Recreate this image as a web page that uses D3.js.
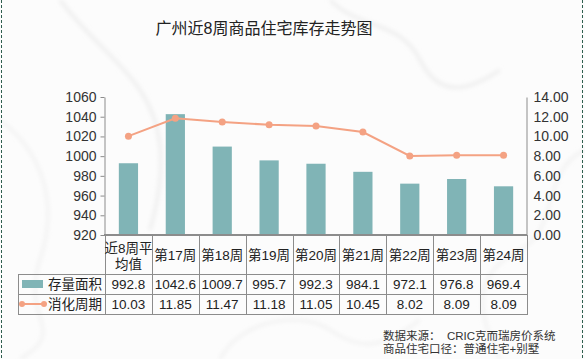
<!DOCTYPE html>
<html>
<head>
<meta charset="utf-8">
<script src="https://cdn.jsdelivr.net/npm/d3@7"></script>
<style>
  body { margin: 0; background: #fff; }
  svg { display: block; font-family: "Liberation Sans", Arial, "Noto Sans CJK SC", sans-serif; }
  .axis path, .axis line { stroke: #8c8c8c; }
  .axis text { fill: #333; font-size: 14px; }
  .cell text { fill: #222; font-size: 13.5px; }
</style>
</head>
<body>
<div id="chart"></div>
<script>
const categories = ['近8周平均值', '第17周', '第18周', '第19周', '第20周', '第21周', '第22周', '第23周', '第24周']
const stockArea = [992.8, 1042.6, 1009.7, 995.7, 992.3, 984.1, 972.1, 976.8, 969.4]
const cycle = [10.03, 11.85, 11.47, 11.18, 11.05, 10.45, 8.02, 8.09, 8.09]
const leftTicks = [920, 940, 960, 980, 1000, 1020, 1040, 1060]
const rightTicks = [0, 2, 4, 6, 8, 10, 12, 14]

const dms = { width: 585, height: 359 }
const plot = { left: 105, right: 527, top: 97, bottom: 235 }
const table = { left: 18, head: 274, row1: 294, row2: 314 }
const barColor = '#80b4b6'
const lineColor = '#f4a283'

const svg = d3.select('#chart').append('svg')
    .attr('width', dms.width)
    .attr('height', dms.height)

// marble-ish background
const defs = svg.append('defs')
defs.append('filter').attr('id', 'blur')
  .append('feGaussianBlur').attr('stdDeviation', 2)
svg.append('rect').attr('width', dms.width).attr('height', dms.height).attr('fill', '#fcfcfc')
const veins = svg.append('g').attr('filter', 'url(#blur)').attr('fill', 'none').attr('stroke', '#ececec')
veins.append('path').attr('d', 'M60,0 C90,40 120,60 140,90 S170,160 150,230').attr('stroke-width', 3)
veins.append('path').attr('d', 'M330,0 C360,30 400,20 420,60 S470,90 500,70').attr('stroke-width', 3)
veins.append('path').attr('d', 'M0,120 C40,150 60,200 40,260 S70,330 20,359').attr('stroke-width', 2)
veins.append('path').attr('d', 'M585,150 C540,170 560,230 520,250 S470,300 500,359').attr('stroke-width', 2)
veins.append('path').attr('d', 'M220,359 C240,320 300,310 330,330 S380,350 420,320').attr('stroke-width', 2)

// dashed side borders
svg.append('line').attr('x1', 1.5).attr('x2', 1.5).attr('y1', 0).attr('y2', dms.height)
  .attr('stroke', '#2e5e4e').attr('stroke-dasharray', '3,2')
svg.append('line').attr('x1', 582.5).attr('x2', 582.5).attr('y1', 0).attr('y2', dms.height)
  .attr('stroke', '#2e5e4e').attr('stroke-dasharray', '3,2')

svg.append('text')
  .attr('x', 264).attr('y', 34)
  .attr('text-anchor', 'middle')
  .attr('font-size', 16).attr('fill', '#222')
  .text('广州近8周商品住宅库存走势图')

const xScale = d3.scaleBand().domain(categories).range([plot.left, plot.right]).paddingInner(0)
const yLeft = d3.scaleLinear().domain([920, 1060]).range([plot.bottom, plot.top])
const yRight = d3.scaleLinear().domain([0, 14]).range([plot.bottom, plot.top])

// axes
const leftAxis = svg.append('g').attr('class', 'axis')
  .attr('transform', `translate(${plot.left - 0.5},0)`)
  .call(d3.axisLeft(yLeft).tickValues(leftTicks).tickSize(4).tickSizeOuter(0).tickPadding(4).tickFormat(d3.format('d')))
const rightAxis = svg.append('g').attr('class', 'axis')
  .attr('transform', `translate(${plot.right - 0.5},0)`)
  .call(d3.axisRight(yRight).tickValues(rightTicks).tickSize(0).tickSizeOuter(0).tickPadding(7).tickFormat(d3.format('.2f')))
rightAxis.selectAll('text').attr('fill', '#444')

// bars
const barW = xScale.bandwidth() * 0.41
svg.append('g').selectAll('rect')
  .data(stockArea)
  .join('rect')
  .attr('x', (d, i) => xScale(categories[i]) + (xScale.bandwidth() - barW) / 2)
  .attr('y', d => yLeft(d))
  .attr('width', barW)
  .attr('height', d => yLeft(920) - yLeft(d))
  .attr('fill', barColor)

// line
const cx = (d, i) => xScale(categories[i]) + xScale.bandwidth() / 2
const line = d3.line().x(cx).y(d => yRight(d))
svg.append('path').datum(cycle)
  .attr('d', line).attr('fill', 'none')
  .attr('stroke', lineColor).attr('stroke-width', 2)
svg.append('g').selectAll('circle')
  .data(cycle)
  .join('circle')
  .attr('cx', cx).attr('cy', d => yRight(d)).attr('r', 3.5)
  .attr('fill', lineColor)

// baseline
svg.append('line')
  .attr('x1', plot.left - 1).attr('x2', plot.right)
  .attr('y1', plot.bottom).attr('y2', plot.bottom)
  .attr('stroke', '#8c8c8c').attr('stroke-width', 2)

// data table
const grid = svg.append('g').attr('stroke', '#8c8c8c').attr('stroke-width', 1)
const cols = categories.map(c => xScale(c)).concat([plot.right])
cols.forEach(x => {
  grid.append('line').attr('x1', Math.round(x) + 0.5).attr('x2', Math.round(x) + 0.5)
    .attr('y1', plot.bottom).attr('y2', table.row2)
})
grid.append('line').attr('x1', table.left + 0.5).attr('x2', table.left + 0.5)
  .attr('y1', table.head).attr('y2', table.row2)
;[table.head, table.row1, table.row2].forEach(y => {
  grid.append('line').attr('x1', table.left).attr('x2', plot.right + 1)
    .attr('y1', y + 0.5).attr('y2', y + 0.5)
})

const cells = svg.append('g').attr('class', 'cell').attr('text-anchor', 'middle')
categories.forEach((c, i) => {
  const x = xScale(c) + xScale.bandwidth() / 2
  if (c.length > 4) {
    cells.append('text').attr('x', x).attr('y', 253).text(c.slice(0, 4))
    cells.append('text').attr('x', x).attr('y', 269).text(c.slice(4))
  } else {
    cells.append('text').attr('x', x).attr('y', 260).text(c)
  }
  cells.append('text').attr('x', x).attr('y', 289).text(stockArea[i])
  cells.append('text').attr('x', x).attr('y', 309).text(cycle[i].toFixed(2))
})

// legend cells
svg.append('rect').attr('x', 22).attr('y', 280).attr('width', 21).attr('height', 8).attr('fill', barColor)
svg.append('line').attr('x1', 22).attr('x2', 44).attr('y1', 304).attr('y2', 304)
  .attr('stroke', lineColor).attr('stroke-width', 2)
svg.append('circle').attr('cx', 22).attr('cy', 304).attr('r', 3).attr('fill', lineColor)
svg.append('circle').attr('cx', 44).attr('cy', 304).attr('r', 3).attr('fill', lineColor)
svg.append('g').attr('class', 'cell').selectAll('text')
  .data(['存量面积', '消化周期'])
  .join('text')
  .attr('x', 48).attr('y', (d, i) => 289 + i * 20)
  .text(d => d)

// source note
svg.append('g').attr('font-size', 11.5).attr('fill', '#333')
  .selectAll('text')
  .data(['数据来源：  CRIC克而瑞房价系统', '商品住宅口径：普通住宅+别墅'])
  .join('text')
  .attr('x', 383).attr('y', (d, i) => 340 + i * 13)
  .attr('xml:space', 'preserve')
  .style('white-space', 'pre')
  .text(d => d)
</script>
</body>
</html>
